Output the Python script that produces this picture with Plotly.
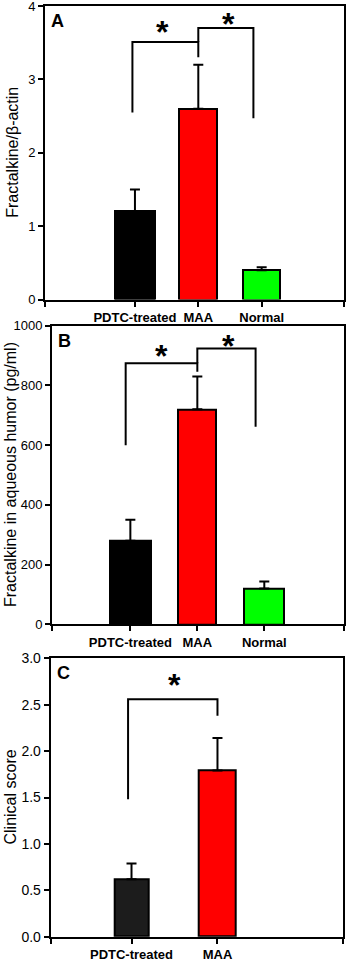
import plotly.graph_objects as go

# ---------------- data ----------------
groups_ab = ["PDTC-treated", "MAA", "Normal"]
groups_c = ["PDTC-treated", "MAA"]

a_values = [1.2, 2.6, 0.4]
a_errors = [0.3, 0.6, 0.04]
b_values = [280, 720, 120]
b_errors = [70, 110, 23]
c_values = [0.62, 1.79]
c_errors = [0.17, 0.35]

colors_ab = ["#000000", "#ff0000", "#00ff00"]
colors_c = ["#1c1c1c", "#ff0000"]

# brackets: [x_left, x_right, y_left_foot, y_top, y_right_foot]
a_brackets = [[-0.04, 1.0, 2.55, 3.51, 3.30], [1.0, 1.87, 3.51, 3.70, 2.47]]
b_brackets = [[-0.07, 1.0, 600, 874, 846], [1.0, 1.87, 874, 924, 662]]
c_brackets = [[-0.04, 1.0, 1.48, 2.56, 2.38]]
# stars: [x, y]
a_stars = [[0.44, 3.65], [1.47, 3.75]]
b_stars = [[0.47, 900], [1.47, 931]]
c_stars = [[0.5, 2.71]]

W, H = 350, 962

def px_x(p):
    return p / W

def px_y(p):
    return 1 - p / H

panels = [
    dict(name="A", cats=groups_ab, vals=a_values, errs=a_errors, cols=colors_ab,
         brackets=a_brackets, stars=a_stars, xr=[-1.42, 3.30], bw=[0.63, 0.6, 0.58],
         yr=[0, 4], dt=1, fmt=None, title="Fractalkine/β-actin",
         xd=[45, 344], yd=[6, 299.5], tfs=13, title_x=13),
    dict(name="B", cats=groups_ab, vals=b_values, errs=b_errors, cols=colors_ab,
         brackets=b_brackets, stars=b_stars, xr=[-1.17, 3.19], bw=[0.61, 0.57, 0.6],
         yr=[0, 1000], dt=200, fmt=None, title="Fractalkine in aqueous humor (pg/ml)",
         xd=[52, 344], yd=[325.7, 624.3], tfs=13, title_x=11),
    dict(name="C", cats=groups_c, vals=c_values, errs=c_errors, cols=colors_c,
         brackets=c_brackets, stars=c_stars, xr=[-0.94, 2.46], bw=[0.40, 0.43],
         yr=[0, 3], dt=0.5, fmt=".1f", title="Clinical score",
         xd=[50.7, 343], yd=[658.3, 936.7], tfs=14, title_x=10),
]

fig = go.Figure()
annotations = []
layout = {}

for i, p in enumerate(panels):
    n = "" if i == 0 else str(i + 1)
    xa, ya = "x" + n, "y" + n
    idx = list(range(len(p["cats"])))
    fig.add_trace(go.Bar(
        x=idx, y=p["vals"], width=p["bw"], xaxis=xa, yaxis=ya,
        marker=dict(color=p["cols"], line=dict(color="black", width=2)),
        error_y=dict(type="data", array=p["errs"], arrayminus=[0] * len(idx),
                     symmetric=False, color="black", thickness=2, width=5),
        showlegend=False, hoverinfo="skip",
    ))
    for br in p["brackets"]:
        fig.add_trace(go.Scatter(
            x=[br[0], br[0], br[1], br[1]], y=[br[2], br[3], br[3], br[4]],
            mode="lines", line=dict(color="black", width=2),
            xaxis=xa, yaxis=ya, showlegend=False, hoverinfo="skip",
        ))
    for st in p["stars"]:
        annotations.append(dict(x=st[0], y=st[1], xref=xa, yref=ya, text="<b>*</b>",
                                showarrow=False, font=dict(size=32, color="black",
                                family="Liberation Sans, Arial"),
                                xanchor="center", yanchor="middle"))
    tickvals = [p["xr"][0]] + idx + [p["xr"][1]]
    ticktext = [""] + ["<b>%s</b>" % c for c in p["cats"]] + [""]
    layout["xaxis" + n] = dict(
        domain=[px_x(p["xd"][0]), px_x(p["xd"][1])], anchor=ya, range=p["xr"],
        tickmode="array", tickvals=tickvals, ticktext=ticktext,
        ticks="outside", ticklen=5, tickwidth=2, tickcolor="black",
        showline=True, linewidth=2, linecolor="black", mirror=True,
        showgrid=False, zeroline=False, automargin=False, ticklabeloverflow="allow",
        tickfont=dict(size=13, color="black", family="Liberation Sans, Arial"),
    )
    layout["yaxis" + n] = dict(
        domain=[px_y(p["yd"][1]), px_y(p["yd"][0])], anchor=xa, range=p["yr"],
        dtick=p["dt"], tick0=0, tickformat=p["fmt"],
        ticks="outside", ticklen=5, tickwidth=2, tickcolor="black",
        showline=True, linewidth=2, linecolor="black", mirror=True,
        showgrid=False, zeroline=False, automargin=False, ticklabeloverflow="allow",
        tickfont=dict(size=p["tfs"], color="black", family="Liberation Sans, Arial"),
    )
    annotations.append(dict(
        x=px_x(p["title_x"]), y=px_y((p["yd"][0] + p["yd"][1]) / 2),
        xref="paper", yref="paper", text=p["title"], textangle=-90,
        showarrow=False, xanchor="center", yanchor="middle",
        font=dict(size=16, color="black", family="Liberation Sans, Arial")))
    annotations.append(dict(
        x=px_x(p["xd"][0] + 4), y=px_y(p["yd"][0] + 3),
        xref="paper", yref="paper", text="<b>%s</b>" % p["name"],
        showarrow=False, xanchor="left", yanchor="top",
        font=dict(size=18, color="black", family="Liberation Sans, Arial")))

fig.update_layout(
    width=W, height=H, margin=dict(l=0, r=0, t=0, b=0, autoexpand=False),
    paper_bgcolor="white", plot_bgcolor="white",
    bargap=0, annotations=annotations, **layout,
)
fig.write_html("out.html")
